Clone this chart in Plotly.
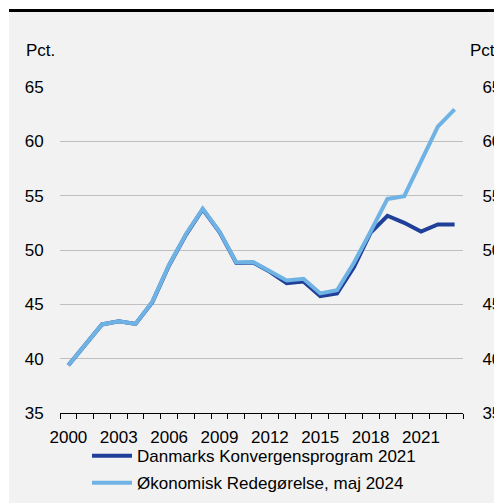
import plotly.graph_objects as go

years = list(range(2000, 2024))
konv2021 = [39.4, 41.3, 43.15, 43.45, 43.2, 45.2, 48.6, 51.4, 53.75, 51.65, 48.8, 48.85,
            48.0, 46.95, 47.1, 45.75, 46.0, 48.4, 51.6, 53.15, 52.5, 51.7, 52.35, 52.35]
oer2024 = [39.4, 41.3, 43.15, 43.45, 43.2, 45.25, 48.65, 51.45, 53.8, 51.7, 48.85, 48.9,
           48.1, 47.2, 47.35, 46.0, 46.3, 48.8, 51.7, 54.7, 54.95, 58.2, 61.35, 62.95]
year_ticks = [2000, 2003, 2006, 2009, 2012, 2015, 2018, 2021]
y_ticks = [35, 40, 45, 50, 55, 60, 65]

DARK = "#1f3f98"
LIGHT = "#6fb2e4"
FONT = "Liberation Sans, Arial, sans-serif"

fig = go.Figure()
fig.add_trace(go.Scatter(x=years, y=konv2021, mode="lines", name="Danmarks Konvergensprogram 2021",
                         legendgroup="a", line=dict(color=DARK, width=4)))
fig.add_trace(go.Scatter(x=years, y=oer2024, mode="lines", name="Økonomisk Redegørelse, maj 2024",
                         legendgroup="b", line=dict(color=LIGHT, width=4)))
fig.add_trace(go.Scatter(x=years, y=oer2024, yaxis="y2", mode="lines", showlegend=False,
                         hoverinfo="skip", line=dict(color="rgba(0,0,0,0)", width=0)))

fig.update_layout(
    width=494, height=503,
    margin=dict(l=60, r=31, t=87, b=90, autoexpand=False),
    paper_bgcolor="white",
    plot_bgcolor="#f2f2f2",
    font=dict(family=FONT, size=17, color="#000000"),
    showlegend=True,
    legend=dict(x=0.067, y=0.129, xref="paper", yref="container", xanchor="left", yanchor="top",
                bgcolor="rgba(0,0,0,0)", font=dict(size=17), traceorder="grouped",
                tracegroupgap=2, itemwidth=40),
    xaxis=dict(range=[1999.5, 2023.5], tickvals=year_ticks, ticktext=[str(v) for v in year_ticks],
               showgrid=False, zeroline=False, showline=True, linecolor="#000000", linewidth=1,
               ticks="outside", ticklen=9, tickcolor="rgba(0,0,0,0)", automargin=False,
               minor=dict(tick0=1999.5, dtick=1, ticks="outside", ticklen=5, tickcolor="#000000",
                          tickwidth=1, showgrid=False),
               tickfont=dict(size=17)),
    yaxis=dict(range=[35, 65], tickvals=y_ticks, showgrid=True, gridcolor="#bfbfbf", gridwidth=1,
               zeroline=False, showline=False, ticks="outside", ticklen=12, automargin=False,
               tickcolor="rgba(0,0,0,0)", tickfont=dict(size=17)),
    yaxis2=dict(range=[35, 65], tickvals=y_ticks, overlaying="y", side="right", showgrid=False,
                zeroline=False, showline=False, ticks="outside", ticklen=15, automargin=False,
                tickcolor="rgba(0,0,0,0)", tickfont=dict(size=17)),
    shapes=[
        dict(type="rect", xref="paper", yref="paper", x0=-51 / 403, x1=434 / 403,
             y0=-90 / 326, y1=(87 - 12) / 326 + 1, fillcolor="#f2f2f2", line=dict(width=0),
             layer="below"),
        dict(type="line", xref="paper", yref="paper", x0=-51 / 403, x1=434 / 403,
             y0=(87 - 10.5) / 326 + 1, y1=(87 - 10.5) / 326 + 1,
             line=dict(color="#000000", width=3)),
    ],
    annotations=[
        dict(text="Pct.", xref="paper", yref="paper", x=-36 / 403, y=(87 - 50) / 326 + 1,
             xanchor="left", yanchor="middle", showarrow=False, font=dict(size=17)),
        dict(text="Pct.", xref="paper", yref="paper", x=(468 - 60) / 403, y=(87 - 50) / 326 + 1,
             xanchor="left", yanchor="middle", showarrow=False, font=dict(size=17)),
    ],
)

fig.write_html("out.html", config={"displayModeBar": False},
               post_script="document.body.style.margin='0px';document.body.style.overflow='hidden';")
